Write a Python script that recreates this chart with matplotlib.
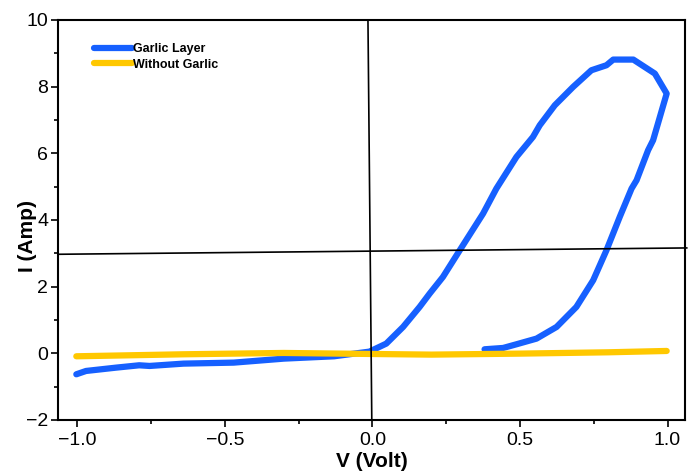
import matplotlib.pyplot as plt
from matplotlib.ticker import MultipleLocator

plt.rcParams['font.family'] = ['Liberation Sans', 'DejaVu Sans']

# Garlic layer I-V loop (forward sweep, then return)
garlic_v = [-1.003, -0.97, -0.868, -0.79, -0.755, -0.64, -0.47, -0.30, -0.13,
            -0.01, 0.047, 0.104, 0.16, 0.194, 0.239, 0.296, 0.375, 0.42,
            0.488, 0.544, 0.567, 0.618, 0.68, 0.742, 0.793, 0.816, 0.884,
            0.957, 0.997, 0.951, 0.934, 0.895, 0.878, 0.838, 0.793, 0.748,
            0.691, 0.624, 0.556, 0.488, 0.443, 0.38]
garlic_i = [-0.63, -0.53, -0.43, -0.36, -0.38, -0.31, -0.28, -0.16, -0.09,
            0.05, 0.29, 0.79, 1.39, 1.79, 2.29, 3.09, 4.19, 4.94,
            5.89, 6.49, 6.84, 7.44, 7.99, 8.49, 8.64, 8.81, 8.81,
            8.39, 7.79, 6.39, 6.09, 5.19, 4.94, 4.09, 3.09, 2.19,
            1.39, 0.79, 0.44, 0.27, 0.16, 0.12]

# Without garlic
plain_v = [-1.003, -0.64, -0.30, -0.01, 0.2, 0.5, 0.8, 0.997]
plain_i = [-0.09, -0.03, 0.01, -0.02, -0.04, -0.01, 0.03, 0.07]

# hand-drawn guide lines
vline_x = [-0.015, -0.002]
vline_y = [10, -2]
hline_x = [-1.063, 1.065]
hline_y = [2.97, 3.16]

fig = plt.figure(figsize=(6.94, 4.74), dpi=100)
ax = fig.add_axes([0.0836, 0.114, 0.9034, 0.844])

ax.plot(garlic_v, garlic_i, color='#1660ff', lw=4.5,
        solid_capstyle='round', solid_joinstyle='round', label='Garlic Layer', zorder=3)
ax.plot(plain_v, plain_i, color='#ffc800', lw=4.5,
        solid_capstyle='round', label='Without Garlic', zorder=4)
ax.plot(vline_x, vline_y, color='black', lw=1.2, clip_on=False, zorder=5)
ax.plot(hline_x, hline_y, color='black', lw=1.2, clip_on=False, zorder=5)

ax.set_xlim(-1.065, 1.059)
ax.set_ylim(-2, 10)
ax.xaxis.set_major_locator(MultipleLocator(0.5))
ax.xaxis.set_minor_locator(MultipleLocator(0.25))
ax.yaxis.set_major_locator(MultipleLocator(2))
ax.yaxis.set_minor_locator(MultipleLocator(1))
ax.tick_params(axis='both', which='major', direction='out', length=5,
               width=1.2, labelsize=14, colors='black', pad=2)
ax.tick_params(axis='x', which='major', pad=4)
ax.tick_params(axis='both', which='minor', direction='out', length=3, width=1.2)
for s in ax.spines.values():
    s.set_linewidth(1.5)

ax.set_xlabel('V (Volt)', fontsize=15, fontweight='bold', labelpad=2)
ax.set_ylabel('I (Amp)', fontsize=15, fontweight='bold')
ax.yaxis.set_label_coords(-0.033, 0.46)

ax.legend(loc='upper left', bbox_to_anchor=(0.05, 0.955), frameon=False,
          borderaxespad=0, handlelength=3.0, handletextpad=0.1,
          labelspacing=0.3, prop={'size': 9, 'weight': 'bold'})

plt.savefig('out.png', dpi=100)
plt.close(fig)
